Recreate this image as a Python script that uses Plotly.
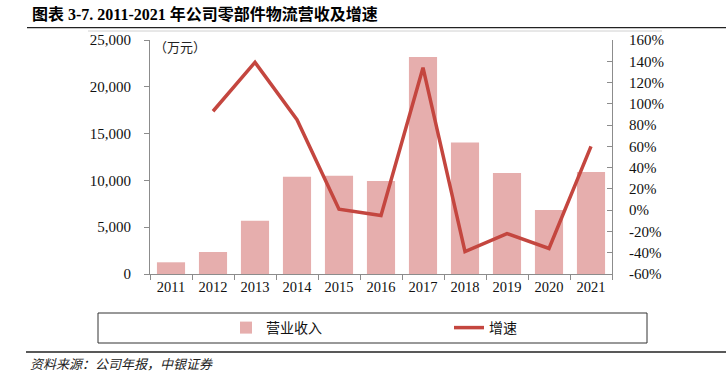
import plotly.graph_objects as go

years = ["2011", "2012", "2013", "2014", "2015", "2016", "2017", "2018", "2019", "2020", "2021"]
revenue = [1250, 2350, 5690, 10390, 10500, 9930, 23180, 14060, 10790, 6840, 10890]
growth_years = ["2012", "2013", "2014", "2015", "2016", "2017", "2018", "2019", "2020", "2021"]
growth = [0.93, 1.39, 0.85, 0.01, -0.05, 1.34, -0.39, -0.22, -0.36, 0.60]
y2_vals = [-0.6, -0.4, -0.2, 0.0, 0.2, 0.4, 0.6, 0.8, 1.0, 1.2, 1.4, 1.6]
y2_text = ["-60%", "-40%", "-20%", "0%", "20%", "40%", "60%", "80%", "100%", "120%", "140%", "160%"]

W, H = 726, 381
L, R, T, B = 150, 612, 40, 274

def px(x):
    return (x - L) / (R - L)

def py(y):
    return (B - y) / (B - T)

SERIF = "Liberation Serif, Times New Roman, Noto Sans CJK SC, serif"
BAR_C = "#E6AEAD"
LINE_C = "#C4463F"
AX_C = "#8C8C8C"

fig = go.Figure()
fig.add_trace(go.Bar(x=years, y=revenue, name="营业收入", marker=dict(color=BAR_C, line=dict(width=0)),
                     width=0.67, legend="legend"))
fig.add_trace(go.Scatter(x=growth_years, y=growth, name="增速", mode="lines", yaxis="y2",
                         line=dict(color=LINE_C, width=3.5), legend="legend2"))

fig.update_layout(
    width=W, height=H,
    margin=dict(l=L, r=W - R, t=T, b=H - B, pad=0),
    paper_bgcolor="white", plot_bgcolor="white",
    font=dict(family=SERIF, size=15, color="#111111"),
    bargap=0.33,
    xaxis=dict(type="category", showgrid=False, showline=True, linecolor=AX_C, linewidth=1,
               ticks="outside", tickson="boundaries", ticklen=5, tickcolor=AX_C,
               tickfont=dict(size=14.5), range=[-0.5, 10.5]),
    yaxis=dict(range=[0, 25000], dtick=5000, tickformat=",", showgrid=False, zeroline=False,
               showline=True, linecolor=AX_C, linewidth=1, ticks="outside", ticklen=5,
               tickcolor=AX_C, ticklabelstandoff=10),
    yaxis2=dict(overlaying="y", side="right", range=[-0.6, 1.6], tickvals=y2_vals, ticktext=y2_text,
                showgrid=False, zeroline=False, showline=True, linecolor=AX_C, linewidth=1,
                ticks="inside", ticklen=5, tickcolor=AX_C, ticklabelstandoff=13),
    legend=dict(orientation="h", x=px(226), xanchor="left", y=py(328), yanchor="middle",
                bgcolor="rgba(0,0,0,0)", font=dict(size=14, family="Noto Sans CJK SC")),
    legend2=dict(orientation="h", x=px(449), xanchor="left", y=py(328), yanchor="middle",
                 bgcolor="rgba(0,0,0,0)", font=dict(size=14, family="Noto Sans CJK SC")),
    showlegend=True,
)

shapes = [
    dict(type="line", xref="paper", yref="paper", x0=px(27), x1=px(726), y0=py(27.7), y1=py(27.7),
         line=dict(color="#222222", width=1.3)),
    dict(type="line", xref="paper", yref="paper", x0=px(88), x1=px(662), y0=py(31), y1=py(31),
         line=dict(color="#D0D0D0", width=1)),
    dict(type="rect", xref="paper", yref="paper", x0=px(98), x1=px(647), y0=py(313), y1=py(343),
         line=dict(color="#333333", width=1)),
    dict(type="line", xref="paper", yref="paper", x0=px(26), x1=px(726), y0=py(352), y1=py(352),
         line=dict(color="#222222", width=1.3)),
]
fig.update_layout(shapes=shapes)

annotations = [
    dict(text="<b>图表 3-7. 2011-2021 年公司零部件物流营收及增速</b>", xref="paper", yref="paper",
         x=px(30), y=py(14), xanchor="left", yanchor="middle", showarrow=False,
         font=dict(size=16, family="Liberation Serif, Noto Sans CJK SC", color="#000000")),
    dict(text="（万元）", xref="paper", yref="paper", x=px(152), y=py(46), xanchor="left",
         yanchor="middle", showarrow=False, font=dict(size=13, family="Noto Sans CJK SC", color="#222222")),
    dict(text="<i>资料来源：公司年报，中银证券</i>", xref="paper", yref="paper", x=px(28), y=py(363),
         xanchor="left", yanchor="middle", showarrow=False,
         font=dict(size=13, family="Noto Sans CJK SC", color="#222222")),
]
fig.update_layout(annotations=annotations)

fig.write_html("out.html", config={"displayModeBar": False},
               post_script="document.body.style.margin='0';document.body.style.padding='0';")
